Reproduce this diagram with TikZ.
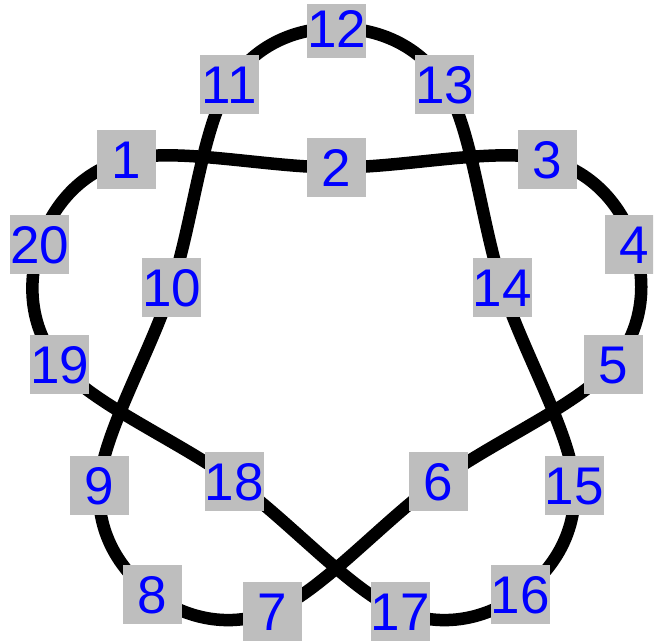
\documentclass[tikz,border=0pt]{standalone}
\usepackage{fontspec}
\setmainfont{Liberation Sans}
\definecolor{boxgray}{RGB}{190,190,190}
\begin{document}
\begin{tikzpicture}[x=1pt,y=-1pt,
  lbl/.style={fill=boxgray, text=blue, minimum width=59pt, minimum height=59pt, inner sep=0pt,
    font=\fontsize{53}{53}\selectfont, text height=38pt, text depth=0pt},
  knotline/.style={line width=12.5pt, line join=round}]
\useasboundingbox (0,0) rectangle (656,641);
\clip (0,4) rectangle (653,641);
\coordinate (p1) at (126.5,159.5);
\coordinate (p2) at (336.5,167.5);
\coordinate (p3) at (547,159.5);
\coordinate (p4) at (634.5,244.5);
\coordinate (p5) at (613.3,364.5);
\coordinate (p6) at (438.3,481.3);
\coordinate (p7) at (272.3,611.5);
\coordinate (p8) at (152.3,594.3);
\coordinate (p9) at (99.3,485.2);
\coordinate (p10) at (171.5,287.5);
\coordinate (p11) at (229.5,84.5);
\coordinate (p12) at (336.5,28);
\coordinate (p13) at (444.5,84.5);
\coordinate (p14) at (502.3,287.5);
\coordinate (p15) at (574.3,485.2);
\coordinate (p16) at (520.3,594.3);
\coordinate (p17) at (400.3,611.5);
\coordinate (p18) at (234.2,481.3);
\coordinate (p19) at (59.5,364.5);
\coordinate (p20) at (39.5,244.5);
\draw[knotline] plot[smooth cycle, tension=0.6] coordinates {(p1) (p2) (p3) (p4) (p5) (p6) (p7) (p8) (p9) (p10) (p11) (p12) (p13) (p14) (p15) (p16) (p17) (p18) (p19) (p20)};
\foreach \i in {1,...,20} {
  \node[lbl] (n\i) at (p\i) {\i};
}
\end{tikzpicture}
\end{document}
